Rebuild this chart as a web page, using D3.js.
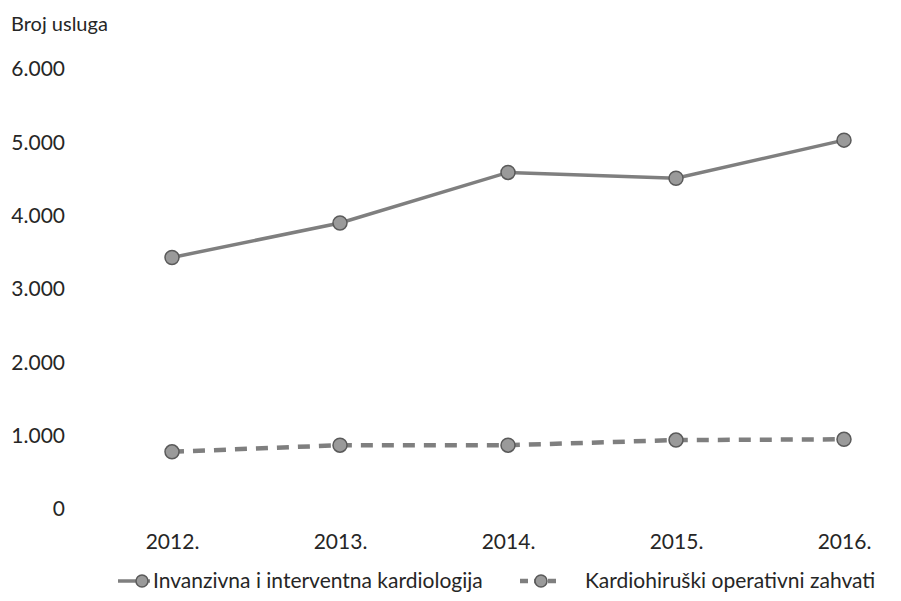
<!DOCTYPE html>
<html lang="hr">
<head>
    <meta charset="utf-8">
    <title>Broj usluga</title>
    <style>
        html, body { margin: 0; padding: 0; background: #fff; }
        svg text { font-family: Lato, "Open Sans", sans-serif; fill: #262626; }
    </style>
    <script src="https://cdn.jsdelivr.net/npm/d3@7"></script>
</head>
<body>
    <div id="chart"></div>
    <script>
        // data
        var years = ["2012.", "2013.", "2014.", "2015.", "2016."];
        var invazivna = [3430, 3900, 4590, 4510, 5030];
        var kardiohirurski = [780, 870, 870, 940, 950];
        var seriesNames = ["Invanzivna i interventna kardiologija", "Kardiohiruški operativni zahvati"];
        var yTicks = [0, 1000, 2000, 3000, 4000, 5000, 6000];

        var width = 901, height = 601;

        var svg = d3.select("#chart").append("svg")
            .attr("width", width)
            .attr("height", height);

        // x is a point scale over the years
        var x = d3.scalePoint()
            .domain(years)
            .range([172, 844]);

        var y = d3.scaleLinear()
            .domain([0, 6000])
            .range([509, 69]);

        var fmt = function(d) {
            return d === 0 ? "0" : d3.format(",")(d).replace(/,/g, ".");
        };

        // axis title
        svg.append("text")
            .attr("x", 11)
            .attr("y", 31)
            .style("font-size", "20px")
            .text("Broj usluga");

        // y axis, labels only, right aligned like excel
        var yAxis = svg.append("g")
            .attr("transform", "translate(65,0)")
            .call(d3.axisLeft(y).tickValues(yTicks).tickSize(0).tickPadding(0).tickFormat(fmt));
        yAxis.select(".domain").remove();
        yAxis.selectAll("text").style("font-size", "21px");

        // x axis labels
        var xAxis = svg.append("g")
            .attr("transform", "translate(0,534)")
            .call(d3.axisBottom(x).tickSize(0).tickPadding(0));
        xAxis.select(".domain").remove();
        xAxis.selectAll("text").style("font-size", "21px");

        var line = d3.line()
            .x(function(d, i) { return x(years[i]); })
            .y(function(d) { return y(d); });

        var series = [
            { name: seriesNames[0], values: invazivna, dash: null, w: 3.5 },
            { name: seriesNames[1], values: kardiohirurski, dash: "12,9", w: 4.5 }
        ];

        series.forEach(function(s) {
            svg.append("path")
                .datum(s.values)
                .attr("fill", "none")
                .attr("stroke", "#7f7f7f")
                .attr("stroke-width", s.w)
                .attr("stroke-dasharray", s.dash)
                .attr("d", line);

            svg.selectAll(null)
                .data(s.values)
                .enter().append("circle")
                .attr("cx", function(d, i) { return x(years[i]); })
                .attr("cy", function(d) { return y(d); })
                .attr("r", 7)
                .attr("fill", "#9a9a9a")
                .attr("stroke", "#5a5a5a")
                .attr("stroke-width", 1.5);
        });

        // legend
        var legendItems = [
            { x0: 118, x1: 150, tx: 153, s: series[0] },
            { x0: 520, x1: 562, tx: 585, s: series[1] }
        ];
        legendItems.forEach(function(l) {
            var g = svg.append("g");
            g.append("line")
                .attr("x1", l.x0).attr("x2", l.x1)
                .attr("y1", 581).attr("y2", 581)
                .attr("stroke", "#7f7f7f")
                .attr("stroke-width", l.s.w)
                .attr("stroke-dasharray", l.s.dash ? "8,6" : null);
            g.append("circle")
                .attr("cx", l.s.dash ? 541 : 142)
                .attr("cy", 581)
                .attr("r", 6)
                .attr("fill", "#9a9a9a")
                .attr("stroke", "#5a5a5a")
                .attr("stroke-width", 1.5);
            g.append("text")
                .attr("x", l.tx)
                .attr("y", 588)
                .style("font-size", "21px")
                .text(l.s.name);
        });
    </script>
</body>
</html>
